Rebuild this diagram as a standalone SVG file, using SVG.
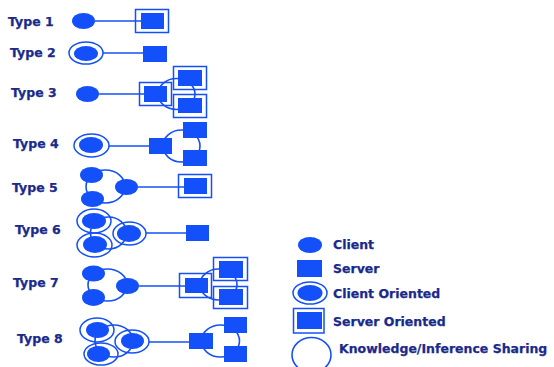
<svg xmlns="http://www.w3.org/2000/svg" width="554" height="367" viewBox="0 0 554 367">
<style>
text{font-family:"DejaVu Sans","Liberation Sans",sans-serif;font-weight:bold;font-size:12.5px;fill:#1a2a8c;stroke:#1a2a8c;stroke-width:0.25}
.c{fill:#1450fa}
.s{fill:#1450fa}
.ring{fill:none;stroke:#1450fa;stroke-width:1.5}
.fr{fill:none;stroke:#1450fa;stroke-width:1.5}
.k{fill:none;stroke:#1450fa;stroke-width:1.6}
.ln{stroke:#1450fa;stroke-width:1.6;fill:none}
</style>
<rect width="554" height="367" fill="#fff"/>
<g id="labels">
<text x="8" y="25.5">Type 1</text>
<text x="10" y="57.3">Type 2</text>
<text x="11" y="97.3">Type 3</text>
<text x="13" y="148">Type 4</text>
<text x="12" y="192.3">Type 5</text>
<text x="15" y="234">Type 6</text>
<text x="13" y="286.7">Type 7</text>
<text x="17" y="343.3">Type 8</text>
</g>
<g id="connectors">
<line class="ln" x1="95" y1="21" x2="141" y2="21"/>
<line class="ln" x1="103" y1="53" x2="143" y2="53"/>
<line class="ln" x1="99" y1="94" x2="144" y2="94"/>
<line class="ln" x1="109" y1="146" x2="149" y2="146"/>
<line class="ln" x1="138" y1="187" x2="184" y2="187"/>
<line class="ln" x1="146" y1="233" x2="186" y2="233"/>
<line class="ln" x1="139" y1="286" x2="185" y2="286"/>
<line class="ln" x1="149" y1="342" x2="189" y2="342"/>
<ellipse class="k" cx="176.5" cy="94" rx="18.5" ry="15.5"/>
<ellipse class="k" cx="181.5" cy="146" rx="18.5" ry="16"/>
<ellipse class="k" cx="105.5" cy="186.5" rx="19.5" ry="16.5"/>
<ellipse class="k" cx="108.5" cy="233" rx="18" ry="16"/>
<ellipse class="k" cx="107.5" cy="285" rx="19.5" ry="16"/>
<ellipse class="k" cx="218.5" cy="284.5" rx="18.5" ry="15.5"/>
<ellipse class="k" cx="114" cy="341" rx="19" ry="16"/>
<ellipse class="k" cx="220.5" cy="341" rx="19" ry="16"/>
</g>
<g id="type1">
<ellipse class="c" cx="83.5" cy="21" rx="11.5" ry="8"/>
<rect class="fr" x="135.5" y="9.5" width="33" height="23"/>
<rect class="s" x="141" y="13" width="23" height="16"/>
</g>
<g id="type2">
<ellipse class="ring" cx="86" cy="53" rx="17" ry="11"/>
<ellipse class="c" cx="86" cy="53.5" rx="12" ry="7.5"/>
<rect class="s" x="143" y="46" width="24" height="16"/>
</g>
<g id="type3">
<ellipse class="c" cx="87.5" cy="94" rx="11.5" ry="8"/>
<rect class="fr" x="139.5" y="82.5" width="32" height="23"/>
<rect class="s" x="144" y="86" width="23" height="16"/>
<rect class="fr" x="173.5" y="66.5" width="33" height="23"/>
<rect class="s" x="178" y="70" width="24" height="16"/>
<rect class="fr" x="173.5" y="94.5" width="33" height="23"/>
<rect class="s" x="178" y="98" width="24" height="15"/>
</g>
<g id="type4">
<ellipse class="ring" cx="91.5" cy="145.5" rx="17.5" ry="11.5"/>
<ellipse class="c" cx="91" cy="145" rx="12" ry="8"/>
<rect class="s" x="149" y="138" width="23" height="16"/>
<rect class="s" x="183" y="122" width="24" height="16"/>
<rect class="s" x="183" y="150" width="24" height="16"/>
</g>
<g id="type5">
<ellipse class="c" cx="91.5" cy="175" rx="11.5" ry="8"/>
<ellipse class="c" cx="92.5" cy="199" rx="11.5" ry="8"/>
<ellipse class="c" cx="126.5" cy="187" rx="11.5" ry="8"/>
<rect class="fr" x="178.5" y="174.5" width="33" height="23"/>
<rect class="s" x="184" y="178" width="23" height="16"/>
</g>
<g id="type6">
<ellipse class="ring" cx="94" cy="221" rx="17" ry="12"/>
<ellipse class="c" cx="94" cy="221" rx="12" ry="8"/>
<ellipse class="ring" cx="94.5" cy="245" rx="17.5" ry="12"/>
<ellipse class="c" cx="95" cy="244.5" rx="12" ry="8.5"/>
<ellipse class="ring" cx="129.5" cy="233.5" rx="16.5" ry="11.5"/>
<ellipse class="c" cx="129" cy="233.5" rx="12" ry="8.5"/>
<rect class="s" x="186" y="225" width="23" height="16"/>
</g>
<g id="type7">
<ellipse class="c" cx="93.5" cy="273.5" rx="11.5" ry="8"/>
<ellipse class="c" cx="93.5" cy="297.5" rx="11.5" ry="8.5"/>
<ellipse class="c" cx="127.5" cy="286" rx="11.5" ry="8"/>
<rect class="fr" x="179.5" y="273.5" width="32" height="24"/>
<rect class="s" x="185" y="278" width="23" height="15"/>
<rect class="fr" x="213.5" y="257.5" width="34" height="23"/>
<rect class="s" x="219" y="261" width="24" height="17"/>
<rect class="fr" x="213.5" y="286.5" width="34" height="22"/>
<rect class="s" x="219" y="289" width="24" height="16"/>
</g>
<g id="type8">
<ellipse class="ring" cx="97" cy="330" rx="17" ry="12"/>
<ellipse class="c" cx="97.5" cy="330" rx="11.5" ry="8"/>
<ellipse class="ring" cx="101" cy="354" rx="17" ry="11"/>
<ellipse class="c" cx="98.5" cy="354" rx="11.5" ry="8"/>
<ellipse class="ring" cx="132" cy="341.5" rx="17" ry="11.5"/>
<ellipse class="c" cx="132.5" cy="341" rx="11.5" ry="8"/>
<rect class="s" x="189" y="333" width="24" height="16"/>
<rect class="s" x="224" y="317" width="23" height="16"/>
<rect class="s" x="224" y="346" width="23" height="16"/>
</g>
<g id="legend">
<ellipse class="c" cx="310" cy="245" rx="12" ry="8"/>
<text x="333" y="249.3">Client</text>
<rect class="s" x="297" y="260" width="25" height="17"/>
<text x="333" y="272.7">Server</text>
<ellipse class="ring" cx="310" cy="293" rx="17" ry="11"/>
<ellipse class="c" cx="310" cy="293" rx="12.5" ry="8"/>
<text x="333" y="297.7">Client Oriented</text>
<rect class="fr" x="293.5" y="308.5" width="30.5" height="24.5"/>
<rect class="s" x="297" y="312" width="25" height="17"/>
<text x="333" y="326">Server Oriented</text>
<ellipse class="k" cx="311.5" cy="355" rx="19.5" ry="17.5"/>
<text x="339" y="353.3">Knowledge/Inference Sharing</text>
</g>
</svg>
